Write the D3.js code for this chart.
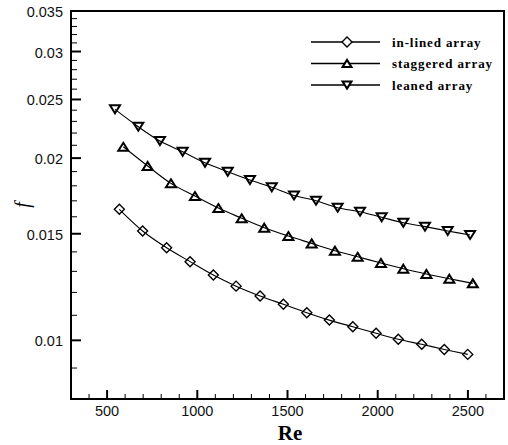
<!DOCTYPE html>
<html>
<head>
<meta charset="utf-8">
<script src="https://cdn.jsdelivr.net/npm/d3@7/dist/d3.min.js"></script>
<style>
  html, body { margin: 0; padding: 0; background: #fff; }
  svg { display: block; }
</style>
</head>
<body>
<svg id="chart" width="508" height="445"></svg>
<script>
// Friction factor f versus Reynolds number for three tube-array layouts
const seriesNames = ["in-lined array", "staggered array", "leaned array"];
const seriesShapes = ["diamond", "triangleUp", "triangleDown"];

const inlinedRe = [568, 697, 830, 960, 1089, 1215, 1348, 1477, 1607, 1732, 1862, 1991, 2114, 2244, 2369, 2499];
const inlinedF  = [0.01646, 0.01516, 0.01422, 0.01349, 0.01282, 0.01229, 0.01184, 0.01147,
                   0.01111, 0.01080, 0.01053, 0.01027, 0.01004, 0.00985, 0.00966, 0.00948];

const staggeredRe = [590, 725, 854, 987, 1117, 1246, 1371, 1505, 1634, 1763, 1889, 2018, 2142, 2270, 2397, 2527];
const staggeredF  = [0.02088, 0.01941, 0.01817, 0.01731, 0.01654, 0.01591, 0.01535, 0.01487,
                     0.01446, 0.01406, 0.01374, 0.01342, 0.01313, 0.01287, 0.01264, 0.01242];

const leanedRe = [544, 673, 793, 919, 1043, 1169, 1292, 1413, 1536, 1658, 1778, 1902, 2022, 2142, 2262, 2388, 2512];
const leanedF  = [0.02408, 0.02254, 0.02134, 0.02049, 0.01965, 0.01899, 0.01840, 0.01790, 0.01735,
                  0.01701, 0.01656, 0.01631, 0.01597, 0.01564, 0.01541, 0.01516, 0.01493];

const xMajorTicks = [500, 1000, 1500, 2000, 2500];
const xMinorTicks = d3.range(400, 2700, 100).filter(v => !xMajorTicks.includes(v));
const yMajorTicks = [0.01, 0.015, 0.02, 0.025, 0.03, 0.035];
const yTickLabels = ["0.01", "0.015", "0.02", "0.025", "0.03", "0.035"];
const yMinorTicks = d3.range(9, 35).map(v => v / 1000).filter(v => !yMajorTicks.some(m => Math.abs(m - v) < 1e-9));

const svg = d3.select("#chart");
const plot = { left: 71, right: 504, top: 11, bottom: 399 };

const x = d3.scaleLinear().domain([300, 2700]).range([plot.left, plot.right]);
const y = d3.scaleLog().domain([0.008, 0.035]).range([plot.bottom, plot.top]);

// marker paths centred on the origin
function shapePath(kind, s) {
  const h = s / 2;
  if (kind === "diamond") return `M0,${-h}L${h},0L0,${h}L${-h},0Z`;
  const th = s * 0.8 / 2;
  if (kind === "triangleUp") return `M0,${-th}L${h},${th}L${-h},${th}Z`;
  return `M0,${th}L${h},${-th}L${-h},${-th}Z`;
}

const series = [
  { re: inlinedRe, f: inlinedF },
  { re: staggeredRe, f: staggeredF },
  { re: leanedRe, f: leanedF }
];

const line = d3.line()
  .x(d => x(d[0]))
  .y(d => y(d[1]))
  .curve(d3.curveCatmullRom);

const g = svg.append("g");

series.forEach((s, i) => {
  const pts = s.re.map((r, k) => [r, s.f[k]]);
  g.append("path")
    .attr("d", line(pts))
    .attr("fill", "none")
    .attr("stroke", "#000")
    .attr("stroke-width", 1.1);
  const tri = seriesShapes[i] !== "diamond";
  g.selectAll(null).data(pts).enter().append("path")
    .attr("transform", d => `translate(${x(d[0])},${y(d[1])})`)
    .attr("d", shapePath(seriesShapes[i], tri ? 10 : 10))
    .attr("fill", "none")
    .attr("stroke", "#000")
    .attr("stroke-width", tri ? 2 : 1.4)
    .attr("stroke-linejoin", "miter");
});

// frame
svg.append("rect")
  .attr("x", plot.left).attr("y", plot.top)
  .attr("width", plot.right - plot.left).attr("height", plot.bottom - plot.top)
  .attr("fill", "none").attr("stroke", "#000").attr("stroke-width", 2);

// x ticks (drawn inward)
const ax = svg.append("g");
ax.selectAll(null).data(xMajorTicks).enter().append("line")
  .attr("x1", d => x(d)).attr("x2", d => x(d))
  .attr("y1", plot.bottom).attr("y2", plot.bottom - 9)
  .attr("stroke", "#000").attr("stroke-width", 2);
ax.selectAll(null).data(xMinorTicks).enter().append("line")
  .attr("x1", d => x(d)).attr("x2", d => x(d))
  .attr("y1", plot.bottom).attr("y2", plot.bottom - 5)
  .attr("stroke", "#000").attr("stroke-width", 1);
ax.selectAll(null).data(xMajorTicks).enter().append("text")
  .attr("x", d => x(d)).attr("y", 416)
  .attr("text-anchor", "middle")
  .attr("font-family", "Liberation Sans, Arial, sans-serif")
  .attr("font-size", 14.5).attr("fill", "#111")
  .text(d => d);

// y ticks (drawn inward)
const ay = svg.append("g");
ay.selectAll(null).data(yMajorTicks).enter().append("line")
  .attr("x1", plot.left).attr("x2", plot.left + 10)
  .attr("y1", d => y(d)).attr("y2", d => y(d))
  .attr("stroke", "#000").attr("stroke-width", 2);
ay.selectAll(null).data(yMinorTicks).enter().append("line")
  .attr("x1", plot.left).attr("x2", plot.left + 6)
  .attr("y1", d => y(d)).attr("y2", d => y(d))
  .attr("stroke", "#000").attr("stroke-width", 1);
ay.selectAll(null).data(yMajorTicks).enter().append("text")
  .attr("x", 63).attr("y", d => y(d) + 6)
  .attr("text-anchor", "end")
  .attr("font-family", "Liberation Sans, Arial, sans-serif")
  .attr("font-size", 14.5).attr("fill", "#111")
  .text((d, i) => yTickLabels[i]);

// axis titles
svg.append("text")
  .attr("x", 290).attr("y", 440)
  .attr("text-anchor", "middle")
  .attr("font-family", "Liberation Serif, Times New Roman, serif")
  .attr("font-weight", "bold").attr("font-size", 21)
  .text("Re");
svg.append("text")
  .attr("transform", "translate(29,205) rotate(-90)")
  .attr("text-anchor", "middle")
  .attr("font-family", "Liberation Serif, Times New Roman, serif")
  .attr("font-style", "italic").attr("font-size", 20)
  .text("f");

// legend
const legendRows = [42, 63.5, 85];
const lg = svg.append("g");
seriesNames.forEach((name, i) => {
  const yy = legendRows[i];
  lg.append("line")
    .attr("x1", 311).attr("x2", 380).attr("y1", yy).attr("y2", yy)
    .attr("stroke", "#000").attr("stroke-width", 1.3);
  const tri = seriesShapes[i] !== "diamond";
  lg.append("path")
    .attr("transform", `translate(347,${yy})`)
    .attr("d", shapePath(seriesShapes[i], tri ? 9 : 10))
    .attr("fill", "#fff")
    .attr("stroke", "#000")
    .attr("stroke-width", tri ? 2 : 1.4);
  lg.append("text")
    .attr("x", 392).attr("y", yy + 4.5)
    .attr("font-family", "Liberation Serif, Times New Roman, serif")
    .attr("font-weight", "bold").attr("font-size", 13)
    .attr("letter-spacing", 0.9)
    .text(name);
});
</script>
</body>
</html>
